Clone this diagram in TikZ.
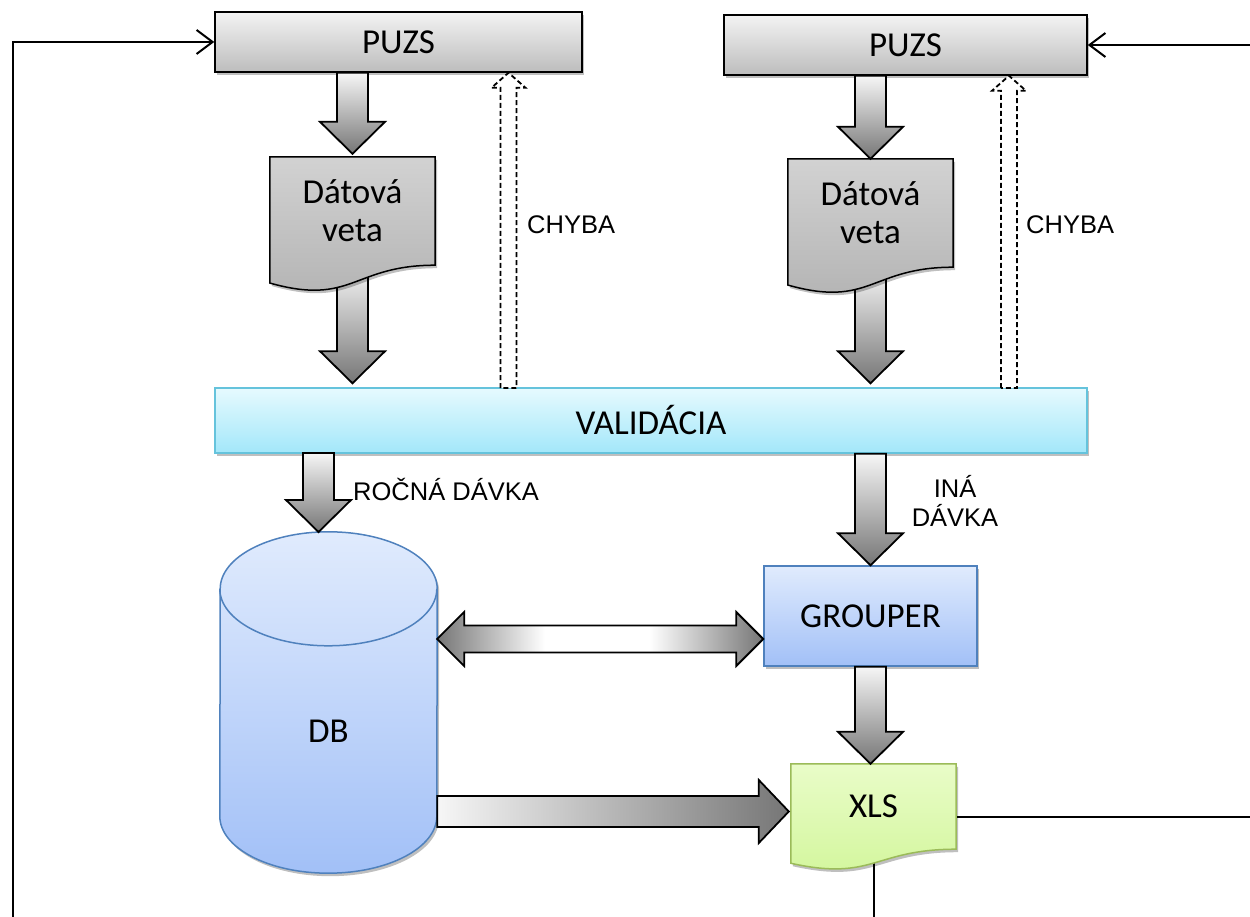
\documentclass[tikz,border=0pt]{standalone}
\usepackage{fontspec}
\setmainfont{Carlito}
\newfontfamily\arialfont{Liberation Sans}
\usetikzlibrary{calc,arrows.meta,shadows}
\pgfdeclarelayer{background}
\pgfsetlayers{background,main}

\definecolor{puzstop}{HTML}{F3F3F3}
\definecolor{puzsbot}{HTML}{BDBDBD}
\definecolor{vetatop}{HTML}{D2D2D2}
\definecolor{vetabot}{HTML}{B2B2B2}
\definecolor{validtop}{HTML}{E6FAFE}
\definecolor{validbot}{HTML}{A3E7FA}
\definecolor{validline}{HTML}{65C3DC}
\definecolor{bluetop}{HTML}{E0EBFD}
\definecolor{bluebot}{HTML}{A2C0F7}
\definecolor{blueline}{HTML}{4F81BD}
\definecolor{xlstop}{HTML}{E9FCC8}
\definecolor{xlsbot}{HTML}{D2F69B}
\definecolor{xlsline}{HTML}{9BBB59}
\definecolor{arrowlight}{HTML}{F6F6F6}
\definecolor{arrowdark}{HTML}{767676}

\newcommand{\boxfont}{\fontsize{35}{38}\selectfont}
\newcommand{\notefont}{\arialfont\fontsize{25.5}{29}\selectfont}

\pgfdeclarehorizontalshading{twoheads}{100bp}{color(0bp)=(arrowdark); color(25bp)=(arrowdark);
  color(41.5bp)=(white); color(57.5bp)=(white); color(75bp)=(arrowdark); color(100bp)=(arrowdark)}

\tikzset{
  softshadow/.style={drop shadow={shadow xshift=2pt,shadow yshift=-3pt,opacity=0.25,fill=black}},
  puzsbox/.style={draw=black,line width=1.5pt,inner sep=0pt,minimum height=60pt,
    top color=puzstop,bottom color=puzsbot,softshadow,font=\boxfont},
  validbox/.style={draw=validline,line width=1.5pt,inner sep=0pt,minimum width=872pt,
    minimum height=65pt,top color=validtop,bottom color=validbot,softshadow,font=\boxfont},
  groupbox/.style={draw=blueline,line width=1.5pt,inner sep=0pt,minimum width=213pt,
    minimum height=100pt,top color=bluetop,bottom color=bluebot,softshadow,font=\boxfont},
  docnode/.style={inner sep=0pt,minimum width=165pt,minimum height=108pt,align=center,font=\boxfont},
  dbnode/.style={inner sep=0pt,minimum width=217pt,minimum height=284pt,font=\boxfont},
  vetafill/.style={draw=black,line width=1.5pt,top color=vetatop,bottom color=vetabot,softshadow},
  xlsfill/.style={draw=xlsline,line width=1.5pt,top color=xlstop,bottom color=xlsbot,softshadow},
  dbfill/.style={draw=blueline,line width=1.5pt,top color=bluetop,bottom color=bluebot,softshadow},
  note/.style={inner sep=0pt,font=\notefont},
  blockarrow/.style={draw=black,line width=1.8pt,line join=miter},
  downgrad/.style={top color=arrowlight,bottom color=arrowdark},
  dasharrow/.style={draw=black,line width=1.8pt,dash pattern=on 5pt off 3pt,fill=white},
  loopline/.style={line width=2pt},
  >={Straight Barb[length=16pt,width=24pt]}
}

% block arrow pointing down, from #2 to the tip #3
\newcommand{\flowdown}[3][]{%
  \path[blockarrow,downgrad,#1] let \p1=(#2), \p2=(#3) in
    ({\x1-15.5pt},\y1) -- ({\x1+15.5pt},\y1) -- ({\x1+15.5pt},{\y2+32pt})
    -- ({\x1+32.5pt},{\y2+32pt}) -- (\x1,\y2) -- ({\x1-32.5pt},{\y2+32pt})
    -- ({\x1-15.5pt},{\y2+32pt}) -- cycle;}
% dashed hollow arrow pointing up
\newcommand{\flowup}[2]{%
  \path[dasharrow] let \p1=(#1), \p2=(#2) in
    ({\x1-8pt},\y1) -- ({\x1-8pt},{\y2-15pt}) -- ({\x1-17pt},{\y2-15pt}) -- (\x1,\y2)
    -- ({\x1+17pt},{\y2-15pt}) -- ({\x1+8pt},{\y2-15pt}) -- ({\x1+8pt},\y1) -- cycle;}
% block arrow pointing right
\newcommand{\flowright}[2]{%
  \path[blockarrow,left color=arrowlight,right color=arrowdark] let \p1=(#1), \p2=(#2) in
    (\x1,{\y2+15.5pt}) -- ({\x2-30pt},{\y2+15.5pt}) -- ({\x2-30pt},{\y2+31.5pt}) -- (\x2,\y2)
    -- ({\x2-30pt},{\y2-31.5pt}) -- ({\x2-30pt},{\y2-15.5pt}) -- (\x1,{\y2-15.5pt}) -- cycle;}
% block arrow with two heads
\newcommand{\flowboth}[2]{%
  \path[blockarrow,shading=twoheads] let \p1=(#1), \p2=(#2) in
    (\x1,\y2) -- ({\x1+27pt},{\y2+27pt}) -- ({\x1+27pt},{\y2+13.5pt}) -- ({\x2-27pt},{\y2+13.5pt})
    -- ({\x2-27pt},{\y2+27pt}) -- (\x2,\y2) -- ({\x2-27pt},{\y2-27pt}) -- ({\x2-27pt},{\y2-13.5pt})
    -- ({\x1+27pt},{\y2-13.5pt}) -- ({\x1+27pt},{\y2-27pt}) -- cycle;}
% flowchart document outline round node #1
\newcommand{\docshape}[2]{%
  \path[#2] let \p1=(#1.north west), \p2=(#1.south east), \n1={\y1-\y2} in
    (\x1,\y1) -- (\x2,\y1) -- (\x2,\y2)
    .. controls ({(\x1+\x2)/2},\y2) and ({(\x1+\x2)/2},{\y1-1.380*\n1*1pt}) .. (\x1,{\y1-1.1646*\n1*1pt}) -- cycle;}

\begin{document}
\begin{tikzpicture}[x=1pt,y=-1pt]
\useasboundingbox (0,0) rectangle (1250,917);

% boxes
\node[puzsbox,minimum width=367pt] (puzsA) at (398.5,42) {PUZS};
\node[puzsbox,minimum width=363pt] (puzsB) at (905.5,45) {PUZS};
\node[docnode] (vetaA) at (352.5,211) {Dátová\\veta};
\node[docnode] (vetaB) at (870.5,213) {Dátová\\veta};
\node[validbox] (valid) at (651,420.5) {VALIDÁCIA};
\node[groupbox] (grouper) at (870.5,616) {GROUPER};
\node[dbnode] (db) at (328.5,731) {DB};
\node[docnode,minimum height=85pt] (xls) at (873.5,806.5) {XLS};

% labels
\node[note,anchor=west] (chybaA) at (527,225) {CHYBA};
\node[note,anchor=west] (chybaB) at (1026,225) {CHYBA};
\node[note,anchor=west] (rocna) at (353,489) {ROČNÁ DÁVKA};
\node[note,align=center] (ina) at (955,501) {INÁ\\DÁVKA};

\coordinate (errA) at (508.5,388);
\coordinate (errB) at (1009,388);
\coordinate (yearly) at (318.5,453);
\coordinate (dbtop) at (318.5,532);
\coordinate (link) at ($(grouper.west)+(0,23)$);
\coordinate (feed) at ($(xls.west)+(-2,5)$);
\coordinate (loopL) at (13,917);
\coordinate (loopR) at (1250,45);
\coordinate (outR) at (1250,817);

\begin{pgfonlayer}{background}
\flowdown{vetaA.south}{$(vetaA.south |- valid.north)+(0,-4)$}
\flowdown{vetaB.south}{$(vetaB.south |- valid.north)+(0,-4)$}
\draw[loopline] (xls.center |- outR) -- (outR);
\draw[loopline] (xls.center) -- (xls.center |- loopL);
\docshape{vetaA}{vetafill}
\docshape{vetaB}{vetafill}
\docshape{xls}{xlsfill}
% DB cylinder
\path[dbfill] ($(db.south west)+(0,-57)$) arc[start angle=180,end angle=360,x radius=108.5pt,y radius=57pt]
  -- (db.north east) arc[start angle=0,end angle=180,x radius=108.5pt,y radius=57pt] -- cycle;
\draw[draw=blueline,line width=1.5pt] (db.north west) arc[start angle=180,end angle=360,x radius=108.5pt,y radius=57pt];
\end{pgfonlayer}

% arrows
\flowdown{vetaA.north |- puzsA.south}{$(vetaA.north)+(0,-3)$}
\flowdown{vetaB.north |- puzsB.south}{vetaB.north}
\flowup{errA}{errA |- puzsA.south}
\flowup{errB}{errB |- puzsB.south}
\flowdown{yearly}{dbtop}
\flowdown{grouper.north |- valid.south}{grouper.north}
\flowdown{grouper.south}{grouper.south |- xls.north}
\flowboth{db.east |- link}{link}
\flowright{db.east |- feed}{feed}

\draw[loopline,->] (loopL) |- (puzsA.west);
\draw[loopline,->] (loopR) -- (puzsB.east);

\end{tikzpicture}
\end{document}
